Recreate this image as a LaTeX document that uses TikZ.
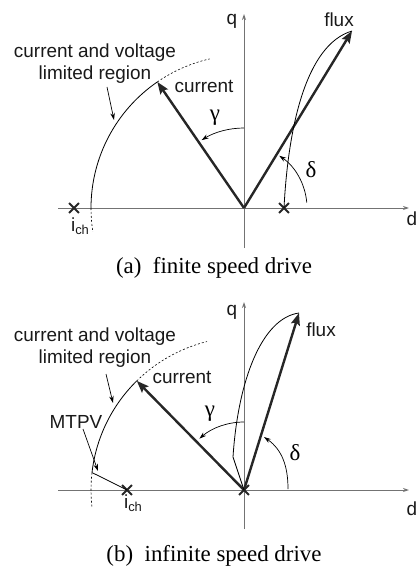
\documentclass[tikz,border=0pt]{standalone}
\usepackage{fontspec}
\setmainfont{Liberation Serif}
\setsansfont{Liberation Sans}
\usetikzlibrary{arrows.meta,calc,shapes.misc}
\begin{document}
\begin{tikzpicture}[x=1bp,y=1bp,
  axis/.style={draw=black!55, line width=1bp, -{Stealth[length=6bp,width=4bp]}},
  vec/.style={draw=black!85, line width=2.4bp, -{Stealth[length=12bp,width=9bp,inset=2bp]}},
  thinline/.style={draw=black, line width=0.8bp},
  ang/.style={draw=black, line width=0.7bp, -{Stealth[length=7bp,width=4.5bp]}},
  lbl/.style={font=\sffamily\fontsize{19}{22}\selectfont, inner sep=0pt, text=black!90},
  captext/.style={font=\rmfamily\fontsize{23}{25}\selectfont, inner sep=0pt},
  greek/.style={font=\rmfamily\fontsize{23}{25}\selectfont, inner sep=0pt},
  dsh/.style={draw=black, line width=0.6bp, dash pattern=on 2bp off 2bp},
  xmark/.style={cross out, draw=black!85, line width=1.8bp, minimum size=8bp, inner sep=0pt},
]
\useasboundingbox (0,0) rectangle (416,-569);
\newcommand{\ich}{i{\fontsize{13}{13}\selectfont\raisebox{-3.5bp}{ch}}}

%% ---------------- panel (a) ----------------
\coordinate (A) at (244,-208);
\coordinate (Aw) at (58,-208);
\coordinate (Ae) at (409,-208);
\coordinate (As) at (244,-248);
\coordinate (An) at (244,-14);
\draw[axis] (Aw) -- (Ae);
\draw[axis] (As) -- (An);
\node[lbl] (qa) at (232,-21) {q};
\node[lbl] (da) at (412,-219) {d};

% circle
\coordinate (Ca) at ($(A)+(124.5:153)$);
\coordinate (Cas) at ($(A)+(180:153)$);
\draw[thinline] (Cas) arc[start angle=180, end angle=124.5, radius=153];
\draw[dsh] (Ca) arc[start angle=124.5, end angle=103, radius=153];
\draw[dsh] (Cas) arc[start angle=180, end angle=189, radius=153];

% vectors
\coordinate (Fa) at (352,-31);
\draw[vec] (A) -- (Ca);
\draw[vec] (A) -- (Fa);

% x marks
\node[xmark] (Xa1) at (74,-208) {};
\node[xmark] (Xa2) at (284,-208) {};

% flux locus
\draw[thinline] (Xa2.center) .. controls (288,-130) and (305,-45) .. (Fa);

% angles
\coordinate (Ga) at ($(A)+(90:80)$);
\draw[ang] (Ga) arc[start angle=90, end angle=122, radius=80];
\coordinate (Da) at ($(A)+(5:63)$);
\draw[ang] (Da) arc[start angle=5, end angle=56, radius=63];
\node[greek] (gama) at (215,-118) {γ};
\node[greek] (dela) at (311,-170) {δ};

% labels
\node[lbl] (fluxa) at (339,-20) {flux};
\node[lbl] (cura) at (204,-86) {current};
\node[lbl, align=center] (rega) at (95,-64) {current and voltage\\limited region};
\coordinate (ra1) at (107,-87);
\coordinate (ra2) at (114,-120);
\draw[ang] (ra1) -- (ra2);
\node[lbl] (icha) at (80,-226) {\ich};
\node[captext] (capa) at (214,-268) {(a)\ \ finite speed drive};

%% ---------------- panel (b) ----------------
\coordinate (B) at (244,-490);
\coordinate (Bw) at (58,-490);
\coordinate (Be) at (409,-490);
\coordinate (Bs) at (244,-529);
\coordinate (Bn) at (244,-302);
\draw[axis] (Bw) -- (Be);
\draw[axis] (Bs) -- (Bn);
\node[lbl] (qb) at (232,-312) {q};
\node[lbl] (db) at (412,-509) {d};

% circle
\coordinate (Cb) at ($(B)+(134.5:153)$);
\coordinate (Cbs) at ($(B)+(173.5:153)$);
\draw[thinline] (Cbs) arc[start angle=173.5, end angle=134.5, radius=153];
\draw[dsh] (Cb) arc[start angle=134.5, end angle=104, radius=153];
\draw[dsh] (Cbs) arc[start angle=173.5, end angle=186.5, radius=153];

% vectors
\coordinate (Fb) at (299,-313);
\draw[vec] (B) -- (Cb);
\draw[vec] (B) -- (Fb);

% x marks
\node[xmark] (Xb1) at (127,-490) {};
\node[xmark] (Xb2) at (244,-490) {};

% MTPV line
\coordinate (Mk) at (97,-475);
\draw[thinline] (Cbs) -- (Mk) -- (Xb1.center);

% flux locus
\coordinate (Kb) at (233,-457);
\draw[thinline] (B) -- (Kb) .. controls (238,-380) and (262,-318) .. (Fb);

% angles
\coordinate (Gb) at ($(B)+(90:68)$);
\draw[ang] (Gb) arc[start angle=90, end angle=131, radius=68];
\coordinate (Db1) at (288,-489);
\coordinate (Db2) at (264,-437);
\draw[ang] (Db1) to[out=90, in=-35] (Db2);
\node[greek] (gamb) at (210,-414) {γ};
\node[greek] (delb) at (295,-453) {δ};

% labels
\node[lbl] (fluxb) at (321,-330) {flux};
\node[lbl] (curb) at (182,-377) {current};
\node[lbl, align=center] (regb) at (95,-348) {current and voltage\\limited region};
\coordinate (rb1) at (106,-374);
\coordinate (rb2) at (113,-403);
\draw[ang] (rb1) -- (rb2);
\node[lbl] (mtpv) at (76,-422) {MTPV};
\coordinate (mb1) at (83,-429);
\coordinate (mb2) at (98,-471);
\draw[ang] (mb1) -- (mb2);
\node[lbl] (ichb) at (133,-503) {\ich};
\node[captext] (capb) at (214,-556) {(b)\ \ infinite speed drive};
\end{tikzpicture}
\end{document}
